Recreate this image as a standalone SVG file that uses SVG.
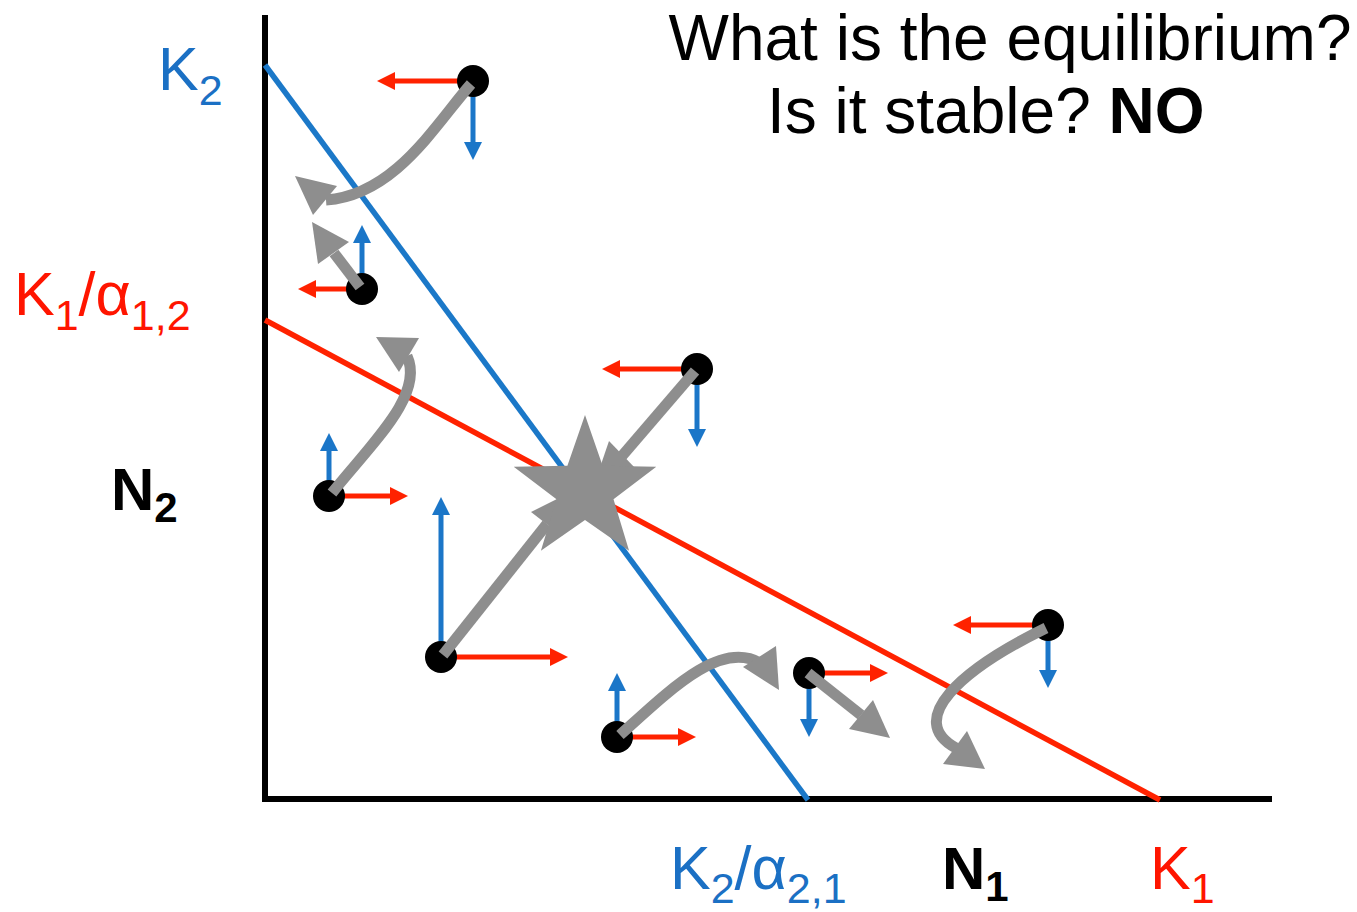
<svg xmlns="http://www.w3.org/2000/svg" width="1357" height="912" viewBox="0 0 1357 912">
<style>
text{font-family:"Liberation Sans",Arial,sans-serif}
.ax{stroke:#000;stroke-width:6;fill:none}
.ra{stroke:#ff2200;stroke-width:5;fill:none;marker-end:url(#rh)}
.ba{stroke:#1b76c8;stroke-width:5;fill:none;marker-end:url(#bh)}
.g{stroke:#8e8e8e;stroke-width:11;fill:none}
.gh{fill:#8e8e8e}
.pt{fill:#000}
.blue{fill:#1b70c4}
.red{fill:#ff1500}
</style>
<defs>
<marker id="rh" markerUnits="userSpaceOnUse" markerWidth="18" markerHeight="18" refX="3" refY="9" orient="auto" viewBox="0 0 18 18">
<path d="M0,0 L18,9 L0,18 z" fill="#ff2200"/>
</marker>
<marker id="bh" markerUnits="userSpaceOnUse" markerWidth="18" markerHeight="18" refX="3" refY="9" orient="auto" viewBox="0 0 18 18">
<path d="M0,0 L18,9 L0,18 z" fill="#1b76c8"/>
</marker>
</defs>
<rect width="1357" height="912" fill="#fff"/>

<g id="axes">
<line class="ax" x1="265" y1="15" x2="265" y2="802"/>
<line class="ax" x1="262" y1="799" x2="1272" y2="799"/>
<line x1="265" y1="65" x2="808" y2="800" stroke="#1b78c8" stroke-width="5.5"/>
<line x1="265" y1="320" x2="1160" y2="800" stroke="#ff2200" stroke-width="5.5"/>
</g>

<g id="labels">
<text x="158" y="90" font-size="61" class="blue">K<tspan font-size="43" dy="15">2</tspan></text>
<text x="14" y="315" font-size="61" class="red">K<tspan font-size="43" dy="15">1</tspan><tspan dy="-15">/α</tspan><tspan font-size="43" dy="15">1,2</tspan></text>
<text x="111" y="510" font-size="60" font-weight="bold">N<tspan font-size="42" dy="12">2</tspan></text>
<text x="670" y="889" font-size="61" class="blue">K<tspan font-size="43" dy="14">2</tspan><tspan dy="-14">/α</tspan><tspan font-size="43" dy="14">2,1</tspan></text>
<text x="942" y="889" font-size="60" font-weight="bold">N<tspan font-size="42" dy="12">1</tspan></text>
<text x="1150" y="889" font-size="61" class="red">K<tspan font-size="43" dy="14">1</tspan></text>
<text x="1010" y="60" font-size="64" text-anchor="middle">What is the equilibrium?</text>
<text x="767" y="133" font-size="64">Is it stable? <tspan font-weight="bold">NO</tspan></text>
</g>

<g id="component-arrows">
<line class="ra" x1="473" y1="81" x2="392" y2="81"/>
<line class="ba" x1="473" y1="81" x2="473" y2="145"/>
<line class="ra" x1="362" y1="289" x2="313" y2="289"/>
<line class="ba" x1="362" y1="289" x2="362" y2="240"/>
<line class="ra" x1="329" y1="496" x2="393" y2="496"/>
<line class="ba" x1="329" y1="496" x2="329" y2="448"/>
<line class="ra" x1="441" y1="657" x2="553" y2="657"/>
<line class="ba" x1="441" y1="657" x2="441" y2="512"/>
<line class="ra" x1="697" y1="369" x2="617" y2="369"/>
<line class="ba" x1="697" y1="369" x2="697" y2="432"/>
<line class="ra" x1="617" y1="737" x2="681" y2="737"/>
<line class="ba" x1="617" y1="737" x2="617" y2="688"/>
<line class="ra" x1="809" y1="673" x2="873" y2="673"/>
<line class="ba" x1="809" y1="673" x2="809" y2="722"/>
<line class="ra" x1="1048" y1="625" x2="968" y2="625"/>
<line class="ba" x1="1048" y1="625" x2="1048" y2="673"/>
</g>

<g id="points">
<circle class="pt" cx="473" cy="81" r="16"/>
<circle class="pt" cx="362" cy="289" r="16"/>
<circle class="pt" cx="329" cy="496" r="16"/>
<circle class="pt" cx="441" cy="657" r="16"/>
<circle class="pt" cx="697" cy="369" r="16"/>
<circle class="pt" cx="617" cy="737" r="16"/>
<circle class="pt" cx="809" cy="673" r="16"/>
<circle class="pt" cx="1048" cy="625" r="16"/>
</g>

<g id="trajectories">
<path class="g" d="M471 84 C435 125,395 195,326 200"/>
<polygon class="gh" points="295,176 337,186 313,215"/>
<path class="g" d="M360 287 L334 253"/>
<polygon class="gh" points="312,222 318,264 349,242"/>
<path class="g" d="M332 493 C370 445,425 395,407 356"/>
<polygon class="gh" points="376,337 419,338 399,372"/>
<path class="g" d="M443 655 L547 524"/>
<polygon class="gh" points="531,512 562,536 571,492"/>
<path class="g" d="M695 371 L622 456"/>
<polygon class="gh" points="609,441 637,470 595,482"/>
<path class="g" d="M620 735 C670 690,720 640,760 663"/>
<polygon class="gh" points="779,690 776,646 743,667"/>
<path class="g" d="M808 673 L861 715"/>
<polygon class="gh" points="890,738 849,729 873,700"/>
<path class="g" d="M1046 628 C960 670,905 720,956 748"/>
<polygon class="gh" points="985,769 943,764 967,731"/>
</g>

<g id="equilibrium">
<polygon fill="#8e8e8e" points="585,415 602.6,465.7 656.3,466.8 613.5,499.3 629.1,550.7 585,520 540.9,550.7 556.5,499.3 513.7,466.8 567.4,465.7"/>
</g>
</svg>
